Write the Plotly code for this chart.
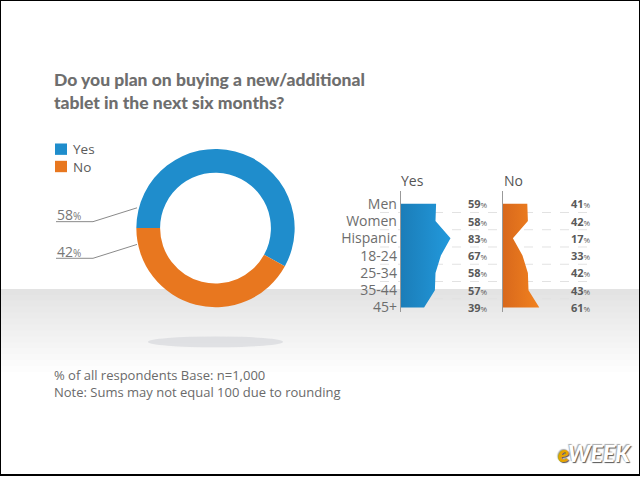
import plotly.graph_objects as go

W, H = 640, 480

# ---------------- data ----------------
title_text = "Do you plan on buying a new/additional<br>tablet in the next six months?"
answers = ["Yes", "No"]
overall = [58, 42]
groups = ["Men", "Women", "Hispanic", "18-24", "25-34", "35-44", "45+"]
yes_vals = [59, 58, 83, 67, 58, 57, 39]
no_vals = [41, 42, 17, 33, 42, 43, 61]
footnote = "% of all respondents Base: n=1,000<br>Note: Sums may not equal 100 due to rounding"

BLUE = "#1f8dcc"
ORANGE = "#e8771f"
colors = [BLUE, ORANGE]


def px(x):
    return x / W


def py(y):
    return 1 - y / H


row_idx = list(range(len(groups)))

fig = go.Figure()

# donut
fig.add_trace(go.Pie(
    labels=answers, values=overall, hole=0.7, sort=False,
    direction="clockwise", rotation=-90,
    marker=dict(colors=colors, line=dict(width=0)),
    textinfo="none", hoverinfo="label+percent", showlegend=False,
    domain=dict(x=[px(135.5), px(295.5)], y=[py(310.5), py(150.5)]),
))

# Yes / No area profiles
fig.add_trace(go.Scatter(
    x=yes_vals, y=row_idx, xaxis="x", yaxis="y", mode="lines",
    line=dict(width=0, color=BLUE), fill="tozerox",
    fillgradient=dict(type="horizontal", colorscale=[[0, "#1b7db8"], [1, "#2299dc"]]),
    showlegend=False, hoverinfo="x+y",
))
fig.add_trace(go.Scatter(
    x=no_vals, y=row_idx, xaxis="x2", yaxis="y2", mode="lines",
    line=dict(width=0, color=ORANGE), fill="tozerox",
    fillgradient=dict(type="horizontal", colorscale=[[0, "#d8681c"], [1, "#f2821f"]]),
    showlegend=False, hoverinfo="x+y",
))

yr = [len(groups) - 0.75, -0.75]
ydom = [py(315), py(192.9)]
fig.update_layout(
    width=W, height=H,
    margin=dict(l=0, r=0, t=0, b=0),
    paper_bgcolor="white", plot_bgcolor="rgba(0,0,0,0)",
    font=dict(family="Open Sans", color="#666"),
    xaxis=dict(domain=[px(400.7), px(460.7)], range=[0, 100], visible=False, fixedrange=True),
    yaxis=dict(domain=ydom, range=yr, anchor="x", tickvals=row_idx, ticktext=groups,
               showline=True, linecolor="#999", linewidth=1, showgrid=False,
               zeroline=False, ticks="", tickfont=dict(size=14, color="#6d6d6d")),
    xaxis2=dict(domain=[px(502.7), px(562.7)], range=[0, 100], visible=False, anchor="y2"),
    yaxis2=dict(domain=ydom, range=yr, anchor="x2", showticklabels=False,
                showline=True, linecolor="#999", linewidth=1, showgrid=False,
                zeroline=False, ticks=""),
)

shapes = []
# gray floor band with fade
n = 14
for i in range(n):
    shapes.append(dict(type="rect", xref="paper", yref="paper", layer="below",
                       x0=0, x1=1, y0=py(292 + (n - i) * 6), y1=py(292),
                       fillcolor="rgba(0,0,0,0.0065)", line=dict(width=0)))
# donut shadow
shapes.append(dict(type="circle", xref="paper", yref="paper", layer="below",
                   x0=px(148), x1=px(283), y0=py(351), y1=py(340),
                   fillcolor="rgba(205,207,214,0.55)", line=dict(width=0)))
# dashed row separators
for i in range(len(groups) - 1):
    shapes.append(dict(type="line", xref="paper", yref="y", layer="below",
                       x0=px(380), x1=px(596), y0=i + 0.5, y1=i + 0.5,
                       line=dict(color="#e2e2e2", width=1, dash="dash")))
# legend swatches
for k, c in enumerate(colors):
    y0 = 145 + k * 17.5
    shapes.append(dict(type="rect", xref="paper", yref="paper",
                       x0=px(55), x1=px(67), y0=py(y0 + 11.5), y1=py(y0),
                       fillcolor=c, line=dict(width=0)))
# leader lines
for k in range(2):
    yl = 224 + k * 37
    ye = 210 + k * 37
    shapes.append(dict(type="path", xref="paper", yref="paper",
                       path=f"M {px(56)} {py(yl)} L {px(93)} {py(yl)} L {px(137)} {py(ye)}",
                       line=dict(color="#8a8a8a", width=1)))
# frame
shapes.append(dict(type="rect", xref="paper", yref="paper", x0=0, x1=1, y0=0, y1=1,
                   line=dict(color="black", width=2)))
fig.update_layout(shapes=shapes)

ann = []
ann.append(dict(x=px(52), y=py(91.5), xref="paper", yref="paper", xanchor="left", yanchor="middle",
                text=title_text, showarrow=False, align="left",
                font=dict(family="Lato", size=17.5, color="#6e6e6e", weight=900)))
# legend labels (one block, line spacing matches swatches)
ann.append(dict(x=px(71), y=py(159.8), xref="paper", yref="paper",
                xanchor="left", yanchor="middle", text="<br>".join(answers), showarrow=False,
                align="left", font=dict(size=13.5, color="#5a5a5a")))
for k, v in enumerate(overall):
    ann.append(dict(x=px(55), y=py(216.7 + k * 37), xref="paper", yref="paper",
                    xanchor="left", yanchor="middle", showarrow=False,
                    text=f"{v}<span style='font-size:10px'>%</span>",
                    font=dict(size=14, color="#777")))
ann.append(dict(x=px(399), y=py(182), xref="paper", yref="paper", xanchor="left", yanchor="middle",
                text=answers[0], showarrow=False, font=dict(size=14, color="#555")))
ann.append(dict(x=px(502), y=py(182), xref="paper", yref="paper", xanchor="left", yanchor="middle",
                text=answers[1], showarrow=False, font=dict(size=14, color="#555")))
for i in row_idx:
    ann.append(dict(x=px(478), y=i, xref="paper", yref="y", xanchor="center", yanchor="middle",
                    text=f"<b>{yes_vals[i]}</b><span style='font-size:8px'>%</span>",
                    showarrow=False, font=dict(size=11, color="#5a5a5a")))
    ann.append(dict(x=px(580.5), y=i, xref="paper", yref="y", xanchor="center", yanchor="middle",
                    text=f"<b>{no_vals[i]}</b><span style='font-size:8px'>%</span>",
                    showarrow=False, font=dict(size=11, color="#5a5a5a")))
ann.append(dict(x=px(52), y=py(388), xref="paper", yref="paper", xanchor="left", yanchor="middle",
                text=footnote, showarrow=False, align="left",
                font=dict(size=13, color="#6a6a6a")))
ann.append(dict(x=px(633), y=py(458), xref="paper", yref="paper", xanchor="right", yanchor="middle",
                text="<span style='color:#e6a500'>e</span>WEEK", showarrow=False,
                font=dict(family="Lato", size=23, color="white", weight=900, style="italic",
                          shadow="1px 1px 1px #555, -1px -1px 1px #aaa")))
fig.update_layout(annotations=ann)

fig.write_html("out.html")
